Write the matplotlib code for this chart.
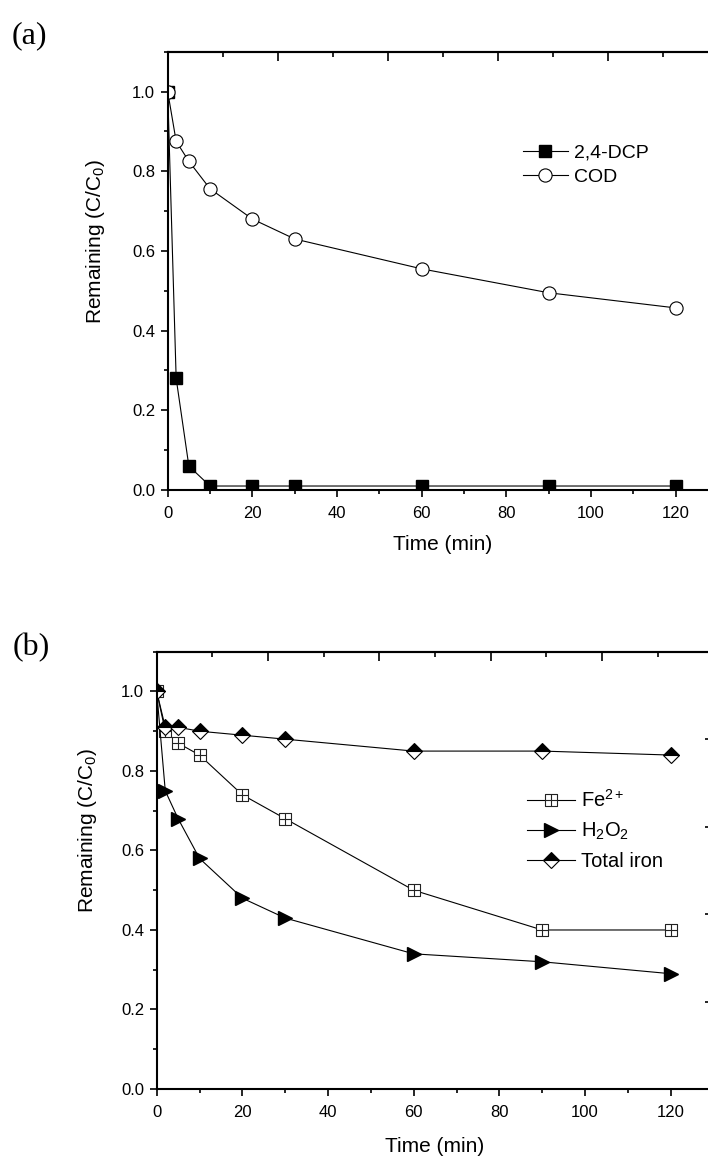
import numpy as np
import matplotlib
matplotlib.use("Agg")
import matplotlib.pyplot as plt
from matplotlib.path import Path
from matplotlib.ticker import MultipleLocator, FormatStrFormatter

plt.rcParams["font.family"] = ["Liberation Sans", "DejaVu Sans"]
plt.rcParams["mathtext.fontset"] = "custom"
plt.rcParams["mathtext.rm"] = "Liberation Sans"
plt.rcParams["mathtext.it"] = "Liberation Sans:italic"
plt.rcParams["mathtext.bf"] = "Liberation Sans:bold"

# data
time = [0, 2, 5, 10, 20, 30, 60, 90, 120]
dcp = [1.0, 0.28, 0.06, 0.01, 0.01, 0.01, 0.01, 0.01, 0.01]
cod = [1.0, 0.875, 0.825, 0.756, 0.68, 0.63, 0.555, 0.495, 0.457]
fe2 = [1.0, 0.90, 0.87, 0.84, 0.74, 0.68, 0.50, 0.40, 0.40]
h2o2 = [1.0, 0.75, 0.68, 0.58, 0.48, 0.43, 0.34, 0.32, 0.29]
total_iron = [1.0, 0.91, 0.91, 0.90, 0.89, 0.88, 0.85, 0.85, 0.84]

labels_a = ["2,4-DCP", "COD"]
labels_b = ["Fe$^{2+}$", "H$_2$O$_2$", "Total iron"]

# square with a cross inside (Origin style)
boxplus = Path(
    [(-1, -1), (1, -1), (1, 1), (-1, 1), (-1, -1), (0, -1), (0, 1), (-1, 0), (1, 0)],
    [Path.MOVETO, Path.LINETO, Path.LINETO, Path.LINETO, Path.CLOSEPOLY,
     Path.MOVETO, Path.LINETO, Path.MOVETO, Path.LINETO])

W, H = 708, 1157
fig = plt.figure(figsize=(W / 100, H / 100), dpi=100)


def style_axes(ax, xlab_y, ylab_x, ylab_y):
    ax.set_xlim(0, 130)
    ax.set_ylim(0, 1.1)
    for s in ax.spines.values():
        s.set_linewidth(1.5)
    ax.xaxis.set_major_locator(MultipleLocator(20))
    ax.xaxis.set_minor_locator(MultipleLocator(10))
    ax.yaxis.set_major_locator(MultipleLocator(0.2))
    ax.yaxis.set_minor_locator(MultipleLocator(0.1))
    ax.yaxis.set_major_formatter(FormatStrFormatter("%.1f"))
    ax.tick_params(which="both", direction="out", top=False, right=False,
                   width=1.2, labelsize=12)
    ax.tick_params(which="major", length=5, pad=4)
    ax.tick_params(axis="x", which="major", pad=6.5)
    ax.tick_params(which="minor", length=3)
    ax.set_xlabel("Time (min)", fontsize=15)
    ax.set_ylabel("Remaining (C/C$_0$)", fontsize=15)
    ax.xaxis.set_label_coords(0.5, xlab_y)
    ax.yaxis.set_label_coords(ylab_x, ylab_y)

    top = ax.secondary_xaxis("top")
    top.xaxis.set_major_locator(MultipleLocator(26))
    top.xaxis.set_minor_locator(MultipleLocator(13))
    top.tick_params(which="both", direction="in", labeltop=False, width=1.2)
    top.tick_params(which="major", length=6.5)
    top.tick_params(which="minor", length=3.5)
    top.spines["top"].set_linewidth(1.5)

    right = ax.secondary_yaxis("right")
    right.yaxis.set_major_locator(MultipleLocator(0.22))
    right.yaxis.set_minor_locator(MultipleLocator(0.11))
    right.tick_params(which="both", direction="in", labelright=False, width=1.2)
    right.tick_params(which="major", length=6.5)
    right.tick_params(which="minor", length=3.5)


# ---- panel (a)
ax1 = fig.add_axes([167.7 / W, 1 - 490 / H, 550.3 / W, 438.3 / H])
ax1.plot(time, dcp, color="black", lw=0.8, marker="s", ms=8.5,
         mfc="black", mec="black", label=labels_a[0])
ax1.plot(time, cod, color="black", lw=0.8, marker="o", ms=9.5,
         mfc="white", mec="black", mew=0.8, label=labels_a[1])
style_axes(ax1, -0.103, -0.110, 0.567)
ax1.legend(loc="center left", bbox_to_anchor=(523 / W, 1 - 165 / H),
           bbox_transform=fig.transFigure, frameon=False, fontsize=14,
           borderpad=0, borderaxespad=0, handlelength=2.3,
           handletextpad=0.3, labelspacing=0.35)
fig.text(12 / W, 1 - 43 / H, "(a)", family="Liberation Serif", fontsize=23)

# ---- panel (b)
ax2 = fig.add_axes([156.7 / W, 1 - 1089 / H, 556.8 / W, 437.3 / H])
ax2.plot(time, fe2, color="black", lw=0.8, marker=boxplus, ms=8,
         mfc="white", mec="#222222", mew=0.8, label=labels_b[0])
ax2.plot(time, h2o2, color="black", lw=0.8, marker=">", ms=10,
         mfc="black", mec="black", label=labels_b[1])
ax2.plot(time, total_iron, color="black", lw=0.8, marker="D", ms=8.5,
         fillstyle="top", mfc="black", mfcalt="white", mec="black",
         mew=0.8, label=labels_b[2])
style_axes(ax2, -0.110, -0.1036, 0.592)
ax2.legend(loc="center left", bbox_to_anchor=(527 / W, 1 - 830 / H),
           bbox_transform=fig.transFigure, frameon=False, fontsize=14.5,
           borderpad=0, borderaxespad=0, handlelength=2.4,
           handletextpad=0.3, labelspacing=0.5)
fig.text(13 / W, 1 - 655 / H, "(b)", family="Liberation Serif", fontsize=23)

fig.savefig("out.png", dpi=100)
